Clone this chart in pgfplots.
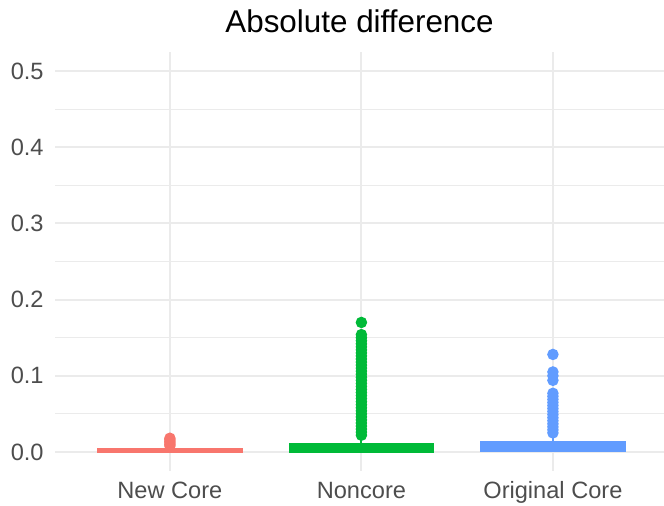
\documentclass[border=0pt]{standalone}
\usepackage{pgfplots}
\pgfplotsset{compat=1.18}
\usepgfplotslibrary{statistics}
\usepackage{fontspec}
\setmainfont{Liberation Sans}
\definecolor{cRed}{HTML}{F8766D}
\definecolor{cGreen}{HTML}{00BA38}
\definecolor{cBlue}{HTML}{619CFF}
\definecolor{gridc}{HTML}{EBEBEB}
\definecolor{labc}{HTML}{4D4D4D}
\begin{document}
\begin{tikzpicture}
\begin{axis}[
  at={(27.5pt,17.5pt)}, anchor=south west,
  scale only axis, width=304.5pt, height=209.5pt,
  xmin=0.4, xmax=3.58, ymin=-0.025, ymax=0.525,
  xtick={1,2,3}, xticklabels={New Core, Noncore, Original Core},
  ytick={0,0.1,0.2,0.3,0.4,0.5},
  yticklabels={0.0,0.1,0.2,0.3,0.4,0.5},
  minor ytick={0.05,0.15,0.25,0.35,0.45},
  xmajorgrids, ymajorgrids, yminorgrids,
  major grid style={color=gridc, line width=1pt},
  minor grid style={color=gridc, line width=0.5pt},
  axis line style={draw=none},
  major tick length=0pt, minor tick length=0pt,
  tick style={draw=none},
  ticklabel style={font=\fontsize{11.8}{13}\selectfont, text=labc},
  yticklabel style={anchor=east, inner sep=0pt, xshift=-5.5pt},
  xticklabel style={anchor=base, inner sep=0pt, yshift=-14pt},
  title={Absolute difference},
  title style={at={(0.5,1)}, anchor=base, inner sep=0pt, yshift=3.5pt, font=\fontsize{15.7}{18}\selectfont},
  clip=false,
  boxplot/draw direction=y,
  boxplot/box extend=0.75,
  boxplot/whisker extend=0,
]
\addplot[draw=cRed, fill=cRed, line width=1pt, mark=*, mark size=2.35pt,
  mark options={draw=none, fill=cRed},
  boxplot prepared={draw position=1, lower whisker=0, lower quartile=0.0003,
    median=0.002, upper quartile=0.004, upper whisker=0.006}]
  coordinates {(0,0.008) (0,0.010) (0,0.012) (0,0.014) (0,0.016) (0,0.018)};
\addplot[draw=cGreen, fill=cGreen, line width=1pt, mark=*, mark size=2.35pt,
  mark options={draw=none, fill=cGreen},
  boxplot prepared={draw position=2, lower whisker=0, lower quartile=0.0005,
    median=0.004, upper quartile=0.011, upper whisker=0.020}]
  coordinates {(0,0.022) (0,0.026) (0,0.030) (0,0.034) (0,0.038) (0,0.042)
    (0,0.046) (0,0.050) (0,0.054) (0,0.058) (0,0.062) (0,0.066) (0,0.070)
    (0,0.074) (0,0.078) (0,0.082) (0,0.086) (0,0.090) (0,0.094) (0,0.098)
    (0,0.102) (0,0.106) (0,0.110) (0,0.114) (0,0.118) (0,0.122) (0,0.126)
    (0,0.130) (0,0.134) (0,0.138) (0,0.142) (0,0.146) (0,0.150) (0,0.154)
    (0,0.170)};
\addplot[draw=cBlue, fill=cBlue, line width=1pt, mark=*, mark size=2.35pt,
  mark options={draw=none, fill=cBlue},
  boxplot prepared={draw position=3, lower whisker=0, lower quartile=0.0015,
    median=0.005, upper quartile=0.0125, upper whisker=0.022}]
  coordinates {(0,0.025) (0,0.029) (0,0.033) (0,0.037) (0,0.041) (0,0.045)
    (0,0.049) (0,0.053) (0,0.057) (0,0.061) (0,0.065) (0,0.069) (0,0.073)
    (0,0.077) (0,0.094) (0,0.100) (0,0.105) (0,0.128)};
\end{axis}
\pgfresetboundingbox
\path[use as bounding box] (0,0) rectangle (332pt,253pt);
\end{tikzpicture}
\end{document}
